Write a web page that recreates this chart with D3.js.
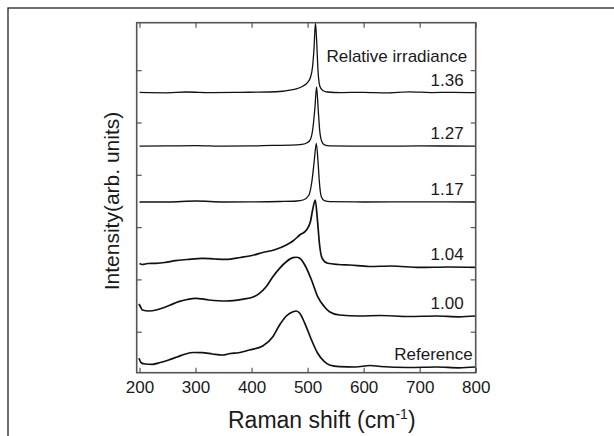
<!DOCTYPE html>
<html>
<head>
<meta charset="utf-8">
<script src="https://cdn.jsdelivr.net/npm/d3@7"></script>
<style>
body { margin: 0; background: #fff; }
text { font-family: "Liberation Sans", Arial, Helvetica, sans-serif; fill: #1a1a1a; }
</style>
</head>
<body>
<script>
// spectra: [Raman shift, intensity (arb.)]
var ser136 = [[200,4.574],[250,4.568],[283,4.583],[330,4.572],[380,4.577],[430,4.583],[455,4.597],[468,4.618],[480,4.644],[492,4.698],[500,4.765],[505,4.860],[509,5.080],[511.5,5.424],[514,5.902],[516.5,5.482],[518.5,5.004],[522,4.688],[527,4.612],[535,4.583],[560,4.572],[600,4.577],[640,4.568],[682,4.587],[720,4.572],[760,4.577],[800,4.572]];
var ser127 = [[200,3.547],[250,3.551],[300,3.558],[350,3.547],[400,3.551],[437,3.562],[470,3.566],[490,3.580],[500,3.618],[505,3.675],[509.5,3.895],[513,4.277],[516,4.679],[519,4.239],[521.5,3.857],[525,3.646],[530,3.570],[540,3.551],[600,3.547],[700,3.551],[800,3.547]];
var ser117 = [[200,2.480],[250,2.480],[301,2.499],[350,2.480],[400,2.482],[450,2.489],[480,2.499],[492,2.518],[502,2.604],[508,2.901],[512,3.283],[515.5,3.602],[519,3.187],[521,2.862],[524.5,2.581],[530,2.505],[540,2.486],[600,2.480],[700,2.482],[800,2.480]];
var ser104 = [[200,1.304],[205,1.285],[215,1.304],[229,1.308],[245,1.323],[264,1.358],[285,1.380],[312,1.403],[335,1.390],[354,1.384],[380,1.419],[401,1.457],[420,1.514],[440,1.562],[462,1.658],[475,1.744],[486,1.849],[498,1.945],[505,2.103],[509.5,2.359],[513.7,2.518],[517.3,2.168],[521.4,1.658],[526,1.403],[536,1.308],[555,1.285],[575,1.275],[610,1.247],[650,1.256],[700,1.228],[750,1.237],[800,1.231]];
var ser100 = [[199,0.530],[202,0.472],[205,0.415],[217,0.396],[230,0.415],[240,0.447],[255,0.511],[270,0.574],[285,0.616],[300,0.639],[324,0.606],[354,0.587],[383,0.619],[404,0.669],[414,0.734],[426,0.860],[438,1.052],[450,1.212],[462,1.338],[474,1.415],[480,1.423],[486,1.403],[495,1.275],[507,0.989],[518,0.669],[530,0.478],[539,0.382],[557,0.319],[593,0.300],[630,0.310],[680,0.291],[730,0.300],[770,0.285],[800,0.300]];
var serRef = [[199,-0.509],[203,-0.593],[210,-0.618],[223,-0.623],[237,-0.589],[252,-0.541],[267,-0.484],[282,-0.426],[297,-0.398],[312,-0.402],[330,-0.426],[348,-0.446],[362,-0.417],[377,-0.402],[396,-0.350],[420,-0.273],[438,-0.096],[450,0.128],[462,0.300],[474,0.382],[480,0.396],[486,0.352],[495,0.161],[507,-0.159],[518,-0.413],[530,-0.574],[539,-0.637],[557,-0.669],[585,-0.675],[612,-0.646],[630,-0.665],[680,-0.685],[730,-0.675],[770,-0.690],[800,-0.675]];

var seriesLabels = ["1.36", "1.27", "1.17", "1.04", "1.00", "Reference"];
var xTicks = [200, 300, 400, 500, 600, 700, 800];
var yTicks = [0, 1, 2, 3, 4, 5];

var allSeries = [ser136, ser127, ser117, ser104, ser100, serRef];

var margin = {top: 22.7, left: 136.7},
    width = 339,
    height = 350;

var svg = d3.select("body").append("svg")
    .attr("width", 614)
    .attr("height", 436);

// page frame (top + left edges show)
svg.append("rect")
    .attr("x", 8).attr("y", 8)
    .attr("width", 700).attr("height", 500)
    .attr("fill", "none")
    .attr("stroke", "#222")
    .attr("stroke-width", 1.3);

var g = svg.append("g")
    .attr("transform", "translate(" + margin.left + "," + margin.top + ")");

var x = d3.scaleLinear().domain([195, 800]).range([0, width]);
var y = d3.scaleLinear().domain([-0.784, 5.908]).range([height, 0]);

var line = d3.line()
    .x(function(d){ return x(d[0]); })
    .y(function(d){ return y(d[1]); })
    .curve(d3.curveMonotoneX);

g.selectAll(".spec")
  .data(allSeries)
  .enter().append("path")
    .attr("class", "spec")
    .attr("d", line)
    .attr("fill", "none")
    .attr("stroke", "#111")
    .attr("stroke-width", function(d, i){ return i >= 3 ? 1.7 : 1.3; })
    .attr("stroke-linejoin", "round");

// axes, ticks pointing inward
var bottom = g.append("g")
    .attr("transform", "translate(0," + height + ")")
    .call(d3.axisBottom(x).tickValues(xTicks).tickSizeInner(-5).tickSizeOuter(0).tickPadding(8));
bottom.selectAll("text").attr("font-size", 17).attr("fill", "#1a1a1a");

g.append("g")
    .call(d3.axisTop(x).tickValues(xTicks).tickSizeInner(-5).tickSizeOuter(0).tickFormat(""));
g.append("g")
    .call(d3.axisLeft(y).tickValues(yTicks).tickSizeInner(-5).tickSizeOuter(0).tickFormat(""));
g.append("g")
    .attr("transform", "translate(" + width + ",0)")
    .call(d3.axisRight(y).tickValues(yTicks).tickSizeInner(-5).tickSizeOuter(0).tickFormat(""));

g.selectAll(".domain").remove();
g.selectAll(".tick line").attr("stroke", "#555").attr("stroke-width", 1.2);

g.append("rect")
    .attr("width", width).attr("height", height)
    .attr("fill", "none")
    .attr("stroke", "#555")
    .attr("stroke-width", 1.6);

// series labels, right aligned above each trace end
g.selectAll(".lab")
  .data(seriesLabels)
  .enter().append("text")
    .attr("class", "lab")
    .attr("text-anchor", "end")
    .attr("font-size", 17)
    .attr("x", function(d, i){ return i == 5 ? width - 3 : width - 12; })
    .attr("y", function(d, i){
        var s = allSeries[i];
        return y(s[s.length - 1][1]) - 7;
    })
    .text(function(d){ return d; });

g.append("text")
    .attr("text-anchor", "end")
    .attr("font-size", 17)
    .attr("x", width - 8.5)
    .attr("y", y(ser136[ser136.length - 1][1]) - 31)
    .text("Relative irradiance");

// axis titles
var xt = svg.append("text")
    .attr("x", 228)
    .attr("y", 428)
    .attr("font-size", 23);
xt.append("tspan").text("Raman shift (cm");
xt.append("tspan").attr("font-size", 14).attr("dy", -9).text("-1");
xt.append("tspan").attr("dy", 9).text(")");

svg.append("text")
    .attr("transform", "translate(119,201) rotate(-90)")
    .attr("text-anchor", "middle")
    .attr("font-size", 21)
    .text("Intensity(arb. units)");
</script>
</body>
</html>
